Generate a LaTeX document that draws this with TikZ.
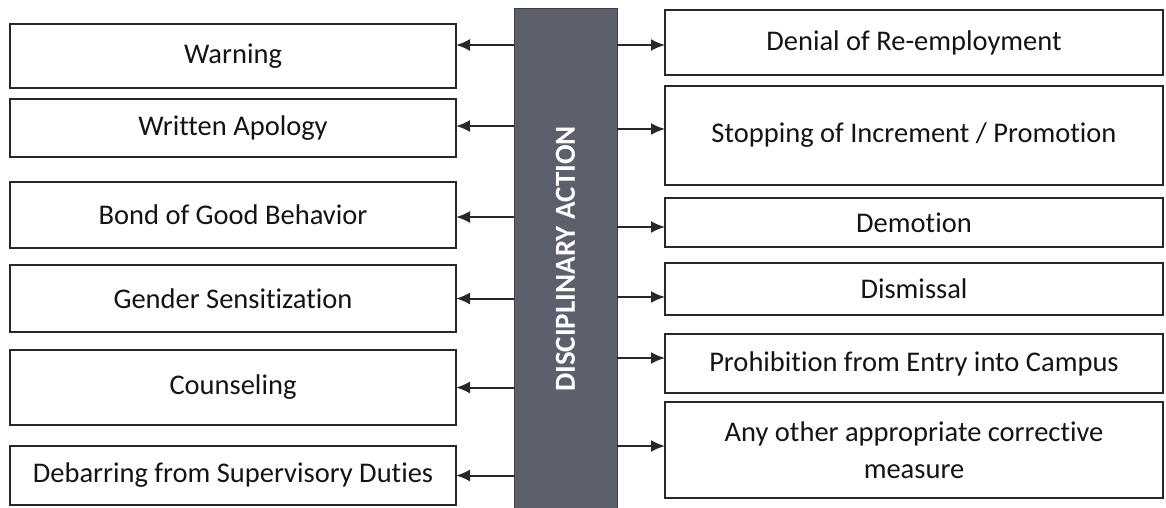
\documentclass[tikz,border=0pt]{standalone}
\usepackage{fontspec}
\setmainfont{Carlito}[Ligatures={NoCommon,NoRequired,NoContextual}, RawFeature={-liga,-clig,-calt,-dlig}]
\usetikzlibrary{arrows.meta}
\definecolor{bargray}{RGB}{92,96,108}
\definecolor{linegray}{RGB}{40,40,40}
\tikzset{item_box/.style={draw=linegray, line width=2pt, fill=white, inner sep=0pt, outer sep=0pt, align=center, text=black!92, font=\fontsize{28.5}{37}\selectfont}}
\tikzset{action_bar/.style={draw=black!75, line width=1pt, fill=bargray, text=white, inner sep=0pt, outer sep=0pt, font=\bfseries\fontsize{29}{29}\selectfont}}
\tikzset{edge_arrow/.style={draw=linegray, line width=2pt, -{Latex[length=14pt,width=12pt]}}}

\begin{document}
\begin{tikzpicture}[x=1pt, y=-1pt]
    \useasboundingbox (0,0) rectangle (1166,507);
    \draw (565.5,259) node[action_bar, minimum width=103pt, minimum height=502pt] (bar) {\rotatebox{90}{DISCIPLINARY ACTION}};
    % left column
    \draw (233,56) node[item_box, minimum width=446pt, minimum height=64pt] (warn) {Warning};
    \draw (233,128) node[item_box, minimum width=446pt, minimum height=58pt] (apol) {Written Apology};
    \draw (233,215) node[item_box, minimum width=446pt, minimum height=66pt] (bond) {Bond of Good Behavior};
    \draw (233,298.5) node[item_box, minimum width=446pt, minimum height=67pt] (gend) {Gender Sensitization};
    \draw (233,387.5) node[item_box, minimum width=446pt, minimum height=75pt] (coun) {Counseling};
    \draw (233,475.5) node[item_box, minimum width=446pt, minimum height=59pt] (debar) {Debarring from Supervisory Duties};
    % right column
    \draw (914,42.5) node[item_box, minimum width=498pt, minimum height=65pt] (deny) {Denial of Re-employment};
    \draw (914,135.5) node[item_box, minimum width=498pt, minimum height=99pt] (stop) {Stopping of Increment / Promotion};
    \draw (914,222.5) node[item_box, minimum width=498pt, minimum height=49pt] (demo) {Demotion};
    \draw (914,289) node[item_box, minimum width=498pt, minimum height=52pt] (dism) {Dismissal};
    \draw (914,363.5) node[item_box, minimum width=498pt, minimum height=59pt] (proh) {Prohibition from Entry into Campus};
    \draw (914,450) node[item_box, minimum width=498pt, minimum height=96pt] (other) {Any other appropriate corrective\\measure};
    % arrows
    \foreach \n/\s in {warn/11, apol/2, bond/-2, gend/0, coun/0, debar/0}{
        \coordinate (\n_in) at ([yshift=\s pt]\n.east);
        \draw[edge_arrow] (bar.west |- \n_in) -- (\n_in);
    }
    \foreach \n/\s in {deny/-2.5, stop/6.5, demo/-4.5, dism/-8, proh/5.5, other/4}{
        \coordinate (\n_in) at ([yshift=\s pt]\n.west);
        \draw[edge_arrow] (bar.east |- \n_in) -- (\n_in);
    }
\end{tikzpicture}
\end{document}
